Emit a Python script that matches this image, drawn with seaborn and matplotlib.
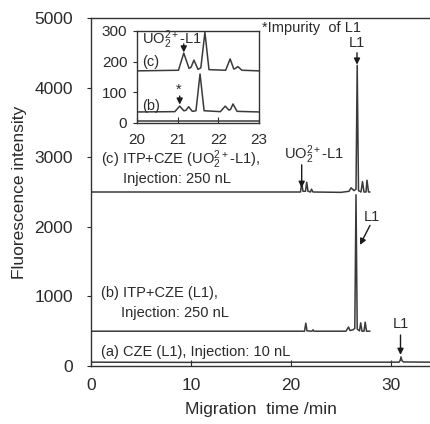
import numpy as np
import pandas as pd
import seaborn as sns
import matplotlib.pyplot as plt

sns.set_style('ticks')
plt.rcParams['font.family'] = ['Liberation Sans', 'DejaVu Sans']
plt.rcParams['mathtext.fontset'] = 'custom'
plt.rcParams['mathtext.rm'] = 'Liberation Sans'
plt.rcParams['mathtext.it'] = 'Liberation Sans'

# main electropherograms (time in min, intensity)
time_a = [0, 10, 20, 30.8, 30.92, 31.0, 31.1, 31.25, 34]
int_a = [55, 52, 55, 55, 80, 130, 75, 58, 55]

time_b = [0, 21.35, 21.48, 21.6, 22.1, 22.2, 22.3, 25.5, 25.75, 25.9, 26.2,
          26.38, 26.5, 26.62, 26.85, 26.97, 27.1, 27.3, 27.42, 27.55, 27.9]
int_b = [500, 500, 615, 505, 500, 520, 500, 500, 560, 510, 520,
         540, 2460, 530, 505, 620, 500, 500, 630, 500, 500]

time_c = [0, 20.95, 21.07, 21.2, 21.45, 21.57, 21.7, 21.95, 22.05, 22.2, 25.0,
          25.8, 26.0, 26.3, 26.5, 26.62, 26.75, 27.0, 27.15, 27.3, 27.5, 27.6,
          27.75, 27.9]
int_c = [2500, 2500, 2630, 2510, 2510, 2640, 2510, 2500, 2540, 2500, 2495,
         2510, 2560, 2520, 2540, 4320, 2520, 2500, 2650, 2500, 2500, 2670,
         2500, 2500]

# inset, 20-23 min
ins_time_a = [20, 23]
ins_int_a = [8, 8]

ins_time_b = [20, 20.93, 21.05, 21.15, 21.2, 21.27, 21.36, 21.45, 21.55, 21.65,
              22.05, 22.17, 22.26, 22.3, 22.36, 22.46, 23]
ins_int_b = [36, 37, 55, 40, 41, 53, 38, 40, 160, 40,
             37, 55, 42, 44, 62, 38, 36]

ins_time_c = [20, 21.02, 21.15, 21.28, 21.33, 21.4, 21.5, 21.57, 21.67, 21.77,
              22.18, 22.29, 22.38, 22.42, 22.48, 22.58, 23]
ins_int_c = [170, 172, 228, 178, 182, 205, 175, 180, 296, 174,
             172, 209, 176, 178, 184, 172, 170]

line_col = '#3a3a3a'
txt_col = '#2a2a2a'

fig = plt.figure(figsize=(4.31, 4.24), dpi=100)
ax = fig.add_axes([91 / 431, 1 - 366 / 424, 340 / 431, 348 / 424])

for t, v in [(time_a, int_a), (time_b, int_b), (time_c, int_c)]:
    sns.lineplot(x=t, y=v, ax=ax, color=line_col, lw=1.1, sort=False, estimator=None)

ax.set_xlim(0, 34)
ax.set_ylim(0, 5000)
ax.set_xticks([0, 10, 20, 30])
ax.set_yticks([0, 1000, 2000, 3000, 4000, 5000])
ax.tick_params(axis='x', direction='in', length=4, labelsize=12.5, pad=9, colors=txt_col)
ax.tick_params(axis='y', direction='out', length=3, labelsize=12.5, pad=10, colors=txt_col)
ax.spines['right'].set_visible(False)
for s in ['left', 'bottom', 'top']:
    ax.spines[s].set_color('#333333')
    ax.spines[s].set_linewidth(1.0)
ax.set_xlabel('Migration  time /min', fontsize=12.5, color=txt_col, labelpad=6)
ax.set_ylabel('Fluorescence intensity', fontsize=12.5, color=txt_col, labelpad=5)

arrow = dict(arrowstyle='-|>', color='#1a1a1a', lw=1.0, mutation_scale=9,
             shrinkA=0, shrinkB=0)
fs = 10.5

ax.text(17.1, 4850, '*Impurity  of L1', fontsize=fs, color=txt_col, va='center')
ax.text(26.6, 4640, 'L1', fontsize=fs, color=txt_col, ha='center', va='center')
ax.annotate('', xy=(26.6, 4330), xytext=(26.6, 4500), arrowprops=arrow)

ax.text(22.25, 3040, 'UO$_2^{2+}$-L1', fontsize=fs, color=txt_col, ha='center', va='center')
ax.annotate('', xy=(21.07, 2560), xytext=(21.07, 2890), arrowprops=arrow)
ax.text(1.03, 2960, '(c) ITP+CZE (UO$_2^{2+}$-L1),', fontsize=fs, color=txt_col, va='center')
ax.text(3.2, 2690, 'Injection: 250 nL', fontsize=fs, color=txt_col, va='center')

ax.text(28.1, 2141, 'L1', fontsize=fs, color=txt_col, ha='center', va='center')
ax.annotate('', xy=(26.9, 1740), xytext=(27.9, 2020), arrowprops=arrow)
ax.text(1.03, 1044, '(b) ITP+CZE (L1),', fontsize=fs, color=txt_col, va='center')
ax.text(3.03, 757, 'Injection: 250 nL', fontsize=fs, color=txt_col, va='center')

ax.text(30.95, 603, 'L1', fontsize=fs, color=txt_col, ha='center', va='center')
ax.annotate('', xy=(30.95, 160), xytext=(30.95, 445), arrowprops=arrow)
ax.text(1.03, 206, '(a) CZE (L1), Injection: 10 nL', fontsize=fs, color=txt_col, va='center')

# inset
axi = fig.add_axes([137 / 431, 1 - 123 / 424, 122 / 431, 92 / 424])
for t, v in [(ins_time_a, ins_int_a), (ins_time_b, ins_int_b), (ins_time_c, ins_int_c)]:
    sns.lineplot(x=t, y=v, ax=axi, color=line_col, lw=1.1, sort=False, estimator=None)
axi.set_xlim(20, 23)
axi.set_ylim(0, 300)
axi.set_xticks([20, 21, 22, 23])
axi.set_yticks([0, 100, 200, 300])
axi.tick_params(axis='x', direction='in', length=4, labelsize=11, pad=7, colors=txt_col)
axi.tick_params(axis='y', direction='out', length=3, labelsize=11, pad=4, colors=txt_col)
for s in axi.spines.values():
    s.set_color('#333333')
    s.set_linewidth(1.0)

axi.text(20.12, 272, 'UO$_2^{2+}$-L1', fontsize=fs, color=txt_col, va='center')
axi.annotate('', xy=(21.15, 230), xytext=(21.15, 258), arrowprops=arrow)
axi.text(20.12, 199, '(c)', fontsize=fs, color=txt_col, va='center')
axi.text(20.12, 55, '(b)', fontsize=fs, color=txt_col, va='center')
axi.text(21.03, 108, '*', fontsize=fs, color=txt_col, ha='center', va='center')
axi.annotate('', xy=(21.05, 60), xytext=(21.05, 88), arrowprops=arrow)

fig.savefig('out.png', dpi=100)
